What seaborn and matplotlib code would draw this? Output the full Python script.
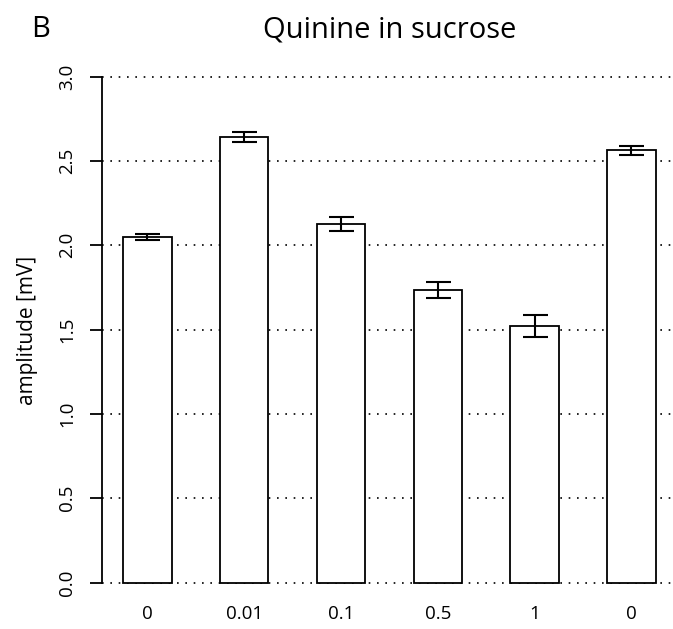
"""Bar chart: quinine in sucrose, amplitude per concentration."""

import matplotlib
matplotlib.use("Agg")
import matplotlib.pyplot as plt
import seaborn as sns
import pandas as pd

# data
conc_labels = ["0", "0.01", "0.1", "0.5", "1", "0"]
amplitude = [2.05, 2.64, 2.127, 1.735, 1.523, 2.562]
amplitude_err = [0.019, 0.030, 0.041, 0.049, 0.066, 0.028]
y_ticks = [0.0, 0.5, 1.0, 1.5, 2.0, 2.5, 3.0]


def main() -> None:
    sns.set_style("white")
    plt.rcParams["font.family"] = ["Open Sans", "DejaVu Sans"]

    df = pd.DataFrame({"pos": range(len(amplitude)), "amp": amplitude})

    fig = plt.figure(figsize=(6.73, 6.29), dpi=100)
    ax = fig.add_axes([102 / 673, 0.0576, 571 / 673, 0.8367])

    sns.barplot(
        data=df, x="pos", y="amp", color="white", edgecolor="black",
        linewidth=1.3, width=0.5, saturation=1, errorbar=None, ax=ax,
    )
    centers = [p.get_x() + p.get_width() / 2 for p in ax.patches]
    ax.errorbar(
        centers, amplitude, yerr=amplitude_err, fmt="none", ecolor="black",
        elinewidth=1.5, capsize=9, capthick=1.5, zorder=3,
    )

    ax.set_xlim(-0.47, 5.429)
    ax.set_ylim(-0.06, 3.06)
    ax.set_axisbelow(True)
    ax.yaxis.grid(True, linestyle=(0, (1, 4)), color="black", linewidth=1.2)
    ax.xaxis.grid(False)

    for side in ["top", "right", "bottom"]:
        ax.spines[side].set_visible(False)
    ax.spines["left"].set_bounds(0, 3)
    ax.spines["left"].set_linewidth(1.3)
    ax.spines["left"].set_color("black")

    ax.set_yticks(y_ticks)
    ax.set_yticklabels([f"{t:.1f}" for t in y_ticks])
    for lbl in ax.get_yticklabels():
        lbl.set_rotation(90)
        lbl.set_va("center")
        lbl.set_ha("right")
    ax.tick_params(axis="y", left=True, length=8.6, width=1.3, color="black",
                   pad=10, labelsize=13.5, labelcolor="black")
    ax.set_xticks(centers)
    ax.set_xticklabels(conc_labels)
    ax.tick_params(axis="x", bottom=False, length=0, pad=9, labelsize=13.5,
                   labelcolor="black")
    ax.set_xlabel("")
    ax.set_ylabel("")

    fig.text(27 / 673, 1 - 330 / 629, "amplitude [mV]", rotation=90,
             ha="center", va="center", fontsize=15, color="black")
    fig.text(390 / 673, 1 - 37 / 629, "Quinine in sucrose", ha="center",
             va="baseline", fontsize=21, color="black")
    fig.text(41 / 673, 1 - 37 / 629, "B", ha="center", va="baseline",
             fontsize=21, color="black")

    fig.savefig("out.png", dpi=100)


if __name__ == "__main__":
    main()
